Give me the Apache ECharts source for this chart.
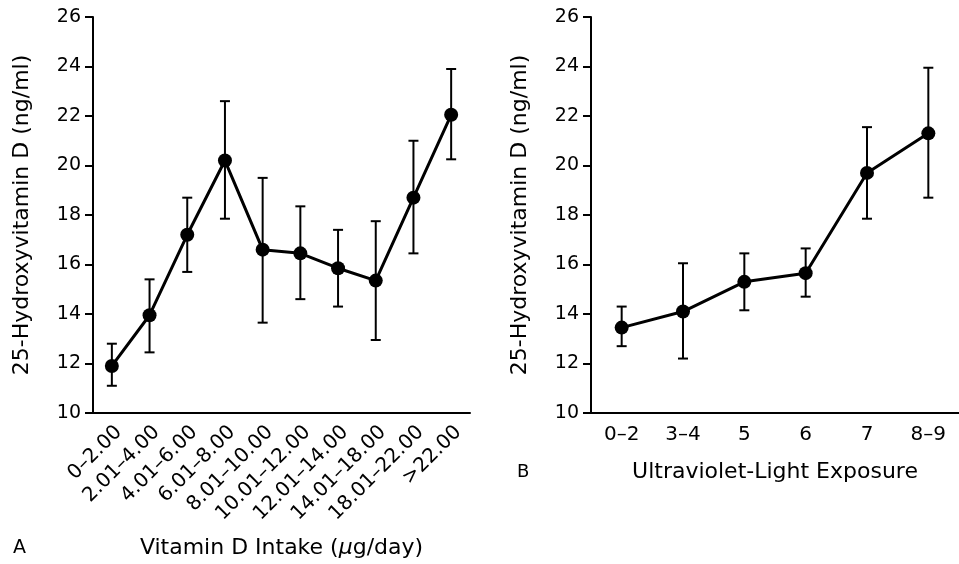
<!DOCTYPE html>
<html>
<head>
<meta charset="utf-8">
<script src="https://cdn.jsdelivr.net/npm/echarts@6/dist/echarts.min.js"></script>
<style>
  html, body { margin: 0; padding: 0; background: #fff; }
  #chart { width: 959px; height: 564px; }
</style>
</head>
<body>
<div id="chart"></div>
<script>
// panel A: vitamin D intake
const intakeCats = ["0\u20132.00", "2.01\u20134.00", "4.01\u20136.00", "6.01\u20138.00", "8.01\u201310.00",
	"10.01\u201312.00", "12.01\u201314.00", "14.01\u201318.00", "18.01\u201322.00", ">22.00"]
const intakeMean = [11.9, 13.95, 17.2, 20.2, 16.6, 16.45, 15.85, 15.35, 18.7, 22.05]
const intakeHigh = [12.8, 15.4, 18.7, 22.6, 19.5, 18.35, 17.4, 17.75, 21.0, 23.9]
const intakeLow = [11.1, 12.45, 15.7, 17.85, 13.65, 14.6, 14.3, 12.95, 16.45, 20.25]

// panel B: ultraviolet-light exposure
const uvCats = ["0\u20132", "3\u20134", "5", "6", "7", "8\u20139"]
const uvMean = [13.45, 14.1, 15.3, 15.65, 19.7, 21.3]
const uvHigh = [14.3, 16.05, 16.45, 16.65, 21.55, 23.95]
const uvLow = [12.7, 12.2, 14.15, 14.7, 17.85, 18.7]

const yTicks = { min: 10, max: 26, interval: 2 }

const FONT = "DejaVu Sans"
const INK = "#000"

const chart = echarts.init(document.getElementById("chart"))

const errorBars = (cats, low, high, idx) => ({
	type: "custom",
	xAxisIndex: idx,
	yAxisIndex: idx,
	z: 2,
	silent: true,
	data: cats.map((c, i) => [i, low[i], high[i]]),
	renderItem: (params, api) => {
		const lo = api.coord([api.value(0), api.value(1)])
		const hi = api.coord([api.value(0), api.value(2)])
		const cap = 5
		const style = { stroke: INK, lineWidth: 2 }
		return {
			type: "group",
			children: [
				{ type: "line", shape: { x1: lo[0], y1: lo[1], x2: hi[0], y2: hi[1] }, style },
				{ type: "line", shape: { x1: hi[0] - cap, y1: hi[1], x2: hi[0] + cap, y2: hi[1] }, style },
				{ type: "line", shape: { x1: lo[0] - cap, y1: lo[1], x2: lo[0] + cap, y2: lo[1] }, style },
			],
		}
	},
})

const meanLine = (vals, idx) => ({
	type: "line",
	xAxisIndex: idx,
	yAxisIndex: idx,
	z: 5,
	data: vals,
	symbol: "circle",
	symbolSize: 14,
	lineStyle: { color: INK, width: 3 },
	itemStyle: { color: INK },
	animation: false,
})

const axisCommon = {
	axisLine: { lineStyle: { color: INK, width: 2 } },
	splitLine: { show: false },
}

const yAxis = (idx) => ({
	type: "value",
	gridIndex: idx,
	...yTicks,
	name: "25-Hydroxyvitamin D (ng/ml)",
	nameLocation: "middle",
	nameGap: 60,
	nameTextStyle: { fontFamily: FONT, fontSize: 22, color: INK },
	axisLabel: { fontFamily: FONT, fontSize: 19, color: INK, margin: 12 },
	...axisCommon,
	axisLine: { show: true, lineStyle: { color: INK, width: 2 } },
	axisTick: { show: true, lineStyle: { color: INK, width: 2 }, length: 8 },
})

chart.setOption({
	backgroundColor: "#fff",
	animation: false,
	grid: [
		{ left: 93, top: 17, width: 377, height: 396 },
		{ left: 591, top: 17, width: 381, height: 396 },
	],
	xAxis: [
		{
			type: "category",
			gridIndex: 0,
			data: intakeCats,
			name: "Vitamin D Intake ({i|\u03bc}g/day)",
			nameLocation: "middle",
			nameGap: 124,
			nameTextStyle: {
				fontFamily: FONT, fontSize: 22, color: INK,
				rich: { i: { fontFamily: FONT, fontSize: 22, color: INK, fontStyle: "italic" } },
			},
			axisLabel: {
				fontFamily: FONT, fontSize: 20, color: INK, rotate: 45, margin: 9,
				interval: 0, verticalAlign: "top",
			},
			...axisCommon,
			axisTick: { alignWithLabel: true, lineStyle: { color: INK, width: 2 }, length: 8 },
		},
		{
			type: "category",
			gridIndex: 1,
			data: uvCats,
			name: "Ultraviolet-Light Exposure",
			nameLocation: "middle",
			nameGap: 48,
			nameTextStyle: { fontFamily: FONT, fontSize: 22, color: INK },
			axisLabel: { fontFamily: FONT, fontSize: 20, color: INK, margin: 12, interval: 0 },
			...axisCommon,
			axisTick: { alignWithLabel: true, lineStyle: { color: INK, width: 2 }, length: 8 },
		},
	],
	yAxis: [yAxis(0), yAxis(1)],
	graphic: [
		{ type: "text", left: 13, top: 539, style: { text: "A", fontFamily: FONT, fontSize: 19, fill: INK } },
		{ type: "text", left: 517, top: 463, style: { text: "B", fontFamily: FONT, fontSize: 18, fill: INK } },
	],
	series: [
		errorBars(intakeCats, intakeLow, intakeHigh, 0),
		meanLine(intakeMean, 0),
		errorBars(uvCats, uvLow, uvHigh, 1),
		meanLine(uvMean, 1),
	],
})

window.addEventListener("resize", () => chart.resize())
</script>
</body>
</html>
